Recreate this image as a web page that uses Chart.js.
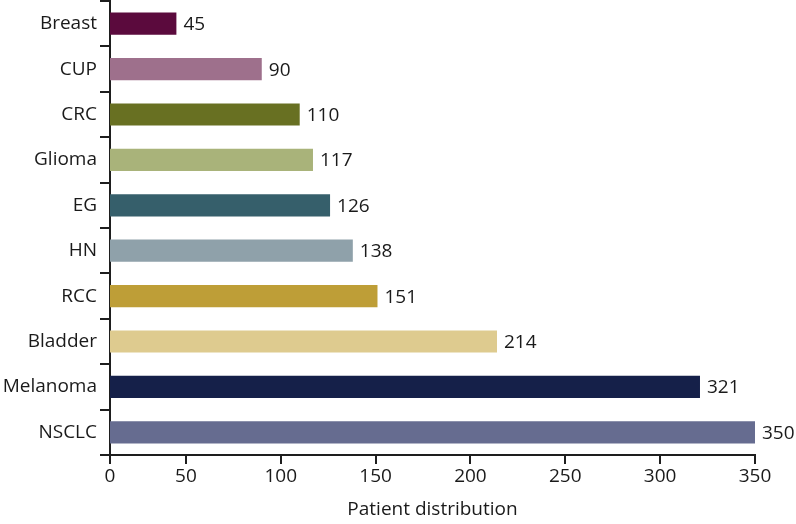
<!DOCTYPE html>
<html>
<head>
<meta charset="utf-8">
<script src="https://cdn.jsdelivr.net/npm/chart.js@4/dist/chart.umd.min.js"></script>
<style>
  html, body { margin: 0; padding: 0; background: #fff; }
  #wrap { width: 796px; height: 524px; }
</style>
</head>
<body>
<div id="wrap"><canvas id="barChart" width="796" height="524"></canvas></div>
<script>
// data, top to bottom
var categories = ['Breast', 'CUP', 'CRC', 'Glioma', 'EG', 'HN', 'RCC', 'Bladder', 'Melanoma', 'NSCLC'];
var patients = [45, 90, 110, 117, 126, 138, 151, 214, 321, 350];
var barColors = ['#5B0A3D', '#9E708C', '#687022', '#A9B37A', '#365F6B',
                 '#8FA1AA', '#BE9E37', '#DECB8F', '#152049', '#666C90'];

// the drawn axis starts a little above zero but is labelled "0"
var axisStart = 10;
var axisEnd = 350;
var tickValues = [axisStart, 50, 100, 150, 200, 250, 300, 350];
var tickLabels = ['0', '50', '100', '150', '200', '250', '300', '350'];

var textColor = '#1a1a1a';
var axisColor = '#1e1e1e';
var font = { family: '"Open Sans", sans-serif', size: 19 };

Chart.defaults.font.family = font.family;
Chart.defaults.color = textColor;

// value labels at end of each bar
var barValueLabels = {
    id: 'barValueLabels',
    afterDatasetsDraw: function(chart) {
        var ctx = chart.ctx;
        var meta = chart.getDatasetMeta(0);
        ctx.save();
        ctx.font = font.size + 'px ' + font.family;
        ctx.fillStyle = textColor;
        ctx.textAlign = 'left';
        ctx.textBaseline = 'middle';
        meta.data.forEach(function(bar, i) {
            ctx.fillText(String(patients[i]), bar.x + 7, bar.y + 1);
        });
        ctx.restore();
    }
};

var ctx = document.getElementById('barChart').getContext('2d');
var chart = new Chart(ctx, {
    type: 'bar',
    data: {
        labels: categories,
        datasets: [{
            data: patients,
            backgroundColor: barColors,
            borderWidth: 0,
            categoryPercentage: 1.0,
            barPercentage: 0.49
        }]
    },
    options: {
        indexAxis: 'y',
        responsive: false,
        animation: false,
        layout: { padding: { top: 1, right: 41, left: 0, bottom: 0 } },
        plugins: {
            legend: { display: false },
            tooltip: { enabled: false }
        },
        scales: {
            x: {
                type: 'linear',
                min: axisStart,
                max: axisEnd,
                afterBuildTicks: function(scale) {
                    scale.ticks = tickValues.map(function(v) { return { value: v }; });
                },
                afterFit: function(scale) { scale.height = 69; },
                ticks: {
                    font: font,
                    color: textColor,
                    padding: 1,
                    maxRotation: 0,
                    callback: function(value, index) { return tickLabels[index]; }
                },
                grid: {
                    drawOnChartArea: false,
                    drawTicks: true,
                    tickLength: 9,
                    color: axisColor,
                    lineWidth: 2
                },
                border: { display: true, color: axisColor, width: 2 },
                title: {
                    display: true,
                    text: 'Patient distribution',
                    font: font,
                    color: textColor,
                    padding: { top: 0, bottom: 3 }
                }
            },
            y: {
                afterFit: function(scale) {
                    scale.width = 110;
                    scale.paddingTop = 0;
                    scale.paddingBottom = 0;
                },
                ticks: {
                    font: font,
                    color: textColor,
                    padding: 3
                },
                grid: {
                    offset: true,
                    drawOnChartArea: false,
                    drawTicks: true,
                    tickLength: 10,
                    color: axisColor,
                    lineWidth: 2
                },
                border: { display: true, color: axisColor, width: 2 }
            }
        }
    },
    plugins: [barValueLabels]
});
</script>
</body>
</html>
